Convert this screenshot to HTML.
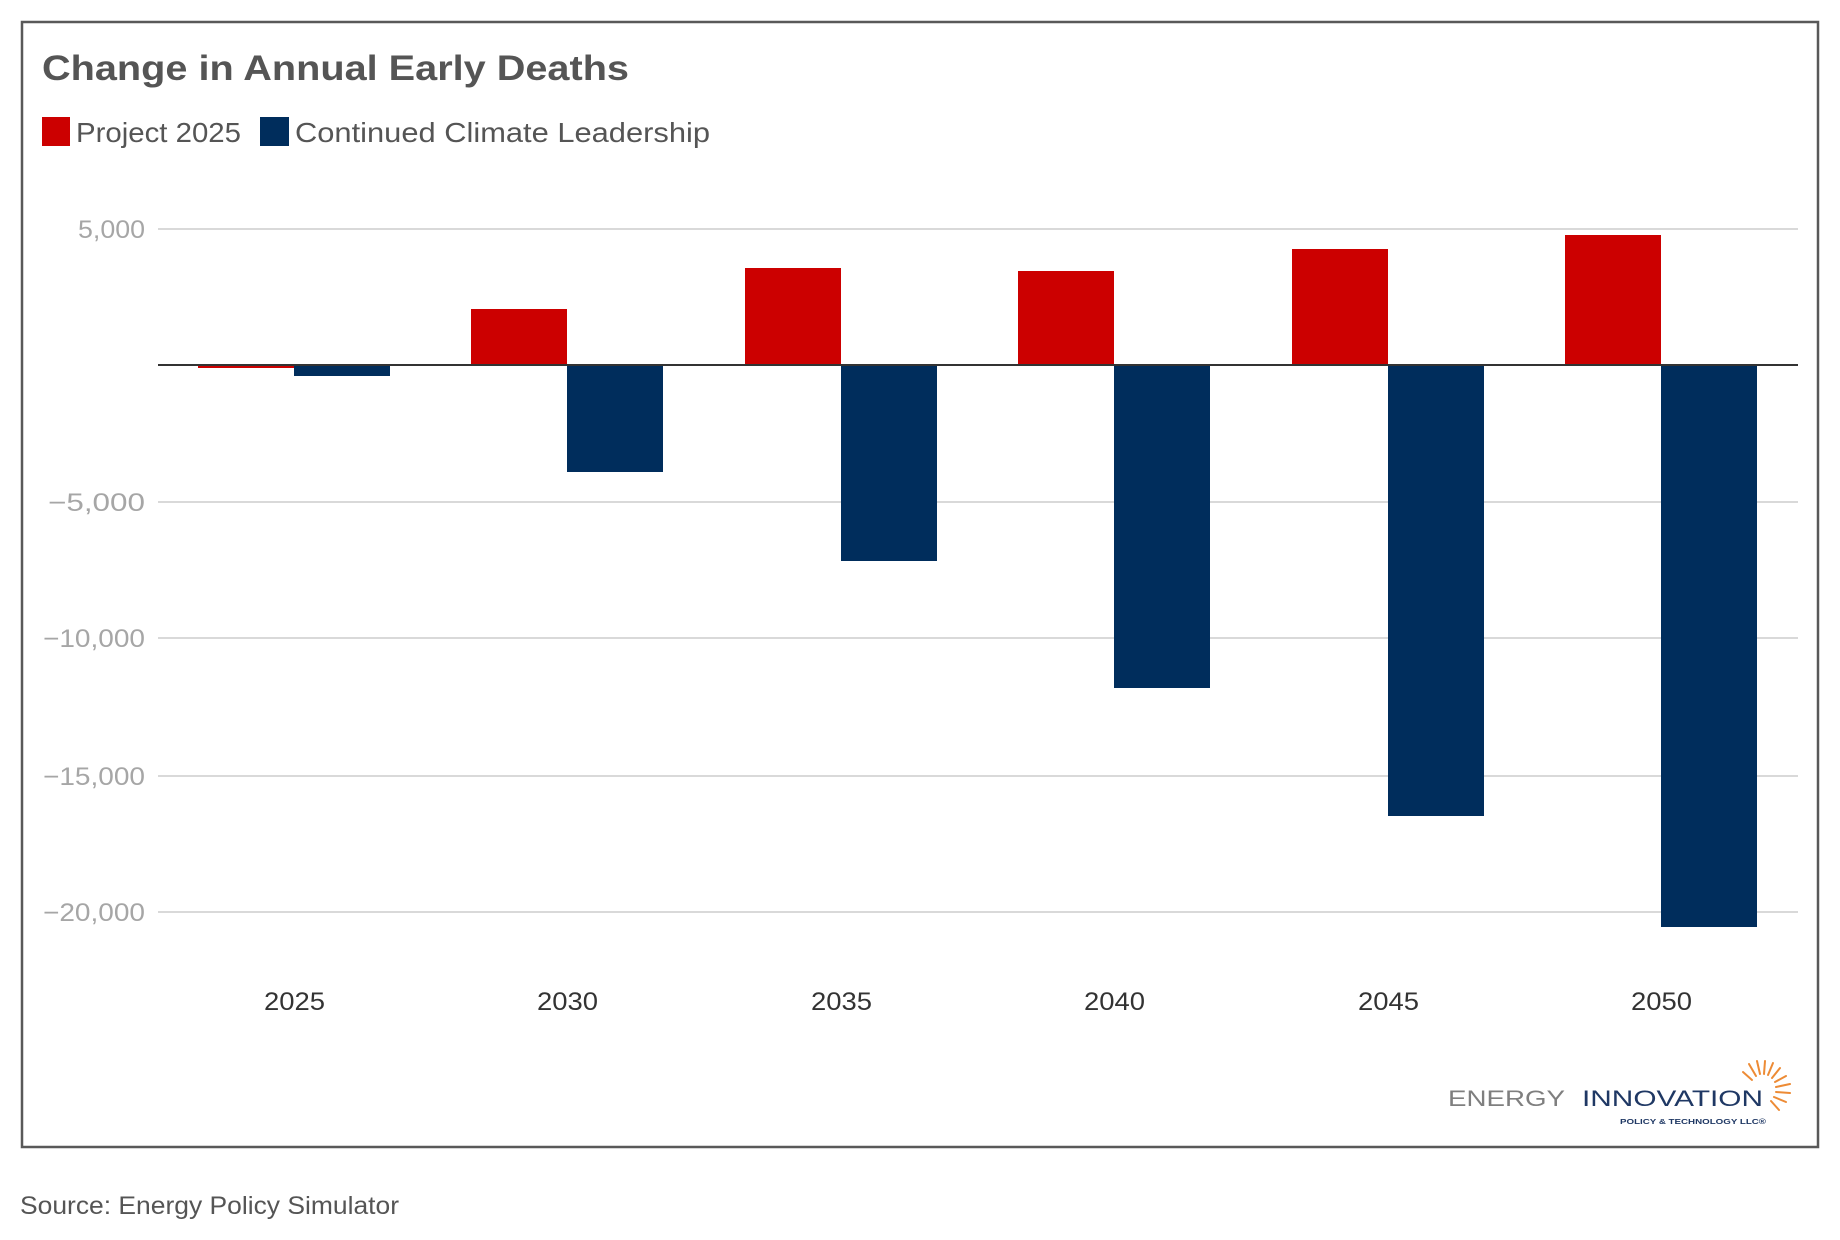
<!DOCTYPE html>
<html><head><meta charset="utf-8"><style>
html,body{margin:0;padding:0;background:#fff;}
svg{display:block;font-family:"Liberation Sans",sans-serif;}
</style></head><body>
<svg width="1840" height="1240" viewBox="0 0 1840 1240" xmlns="http://www.w3.org/2000/svg">
<rect x="22" y="22" width="1796" height="1125" fill="none" stroke="#595959" stroke-width="2.5"/>
<text x="42" y="80" font-size="35" font-weight="bold" fill="#555" textLength="587" lengthAdjust="spacingAndGlyphs">Change in Annual Early Deaths</text>
<rect x="42" y="117" width="28" height="29" fill="#cc0000"/>
<text x="76" y="142" font-size="28" fill="#555" textLength="165" lengthAdjust="spacingAndGlyphs">Project 2025</text>
<rect x="260" y="117" width="29" height="29" fill="#002d5c"/>
<text x="295" y="142" font-size="28" fill="#555" textLength="415" lengthAdjust="spacingAndGlyphs">Continued Climate Leadership</text>
<g stroke="#d9d9d9" stroke-width="2">
<line x1="158" y1="229" x2="1798" y2="229"/>
<line x1="158" y1="502" x2="1798" y2="502"/>
<line x1="158" y1="638" x2="1798" y2="638"/>
<line x1="158" y1="776" x2="1798" y2="776"/>
<line x1="158" y1="912" x2="1798" y2="912"/>
</g>
<g font-size="25" fill="#a6a6a6" lengthAdjust="spacingAndGlyphs">
<text x="78" y="238" textLength="67" lengthAdjust="spacingAndGlyphs">5,000</text>
<text x="48" y="511" textLength="97" lengthAdjust="spacingAndGlyphs">−5,000</text>
<text x="43" y="647" textLength="102" lengthAdjust="spacingAndGlyphs">−10,000</text>
<text x="43" y="785" textLength="102" lengthAdjust="spacingAndGlyphs">−15,000</text>
<text x="43" y="921" textLength="102" lengthAdjust="spacingAndGlyphs">−20,000</text>
</g>
<g fill="#cc0000">
<rect x="198" y="365" width="96" height="3"/>
<rect x="471" y="309" width="96" height="56"/>
<rect x="745" y="268" width="96" height="97"/>
<rect x="1018" y="271" width="96" height="94"/>
<rect x="1292" y="249" width="96" height="116"/>
<rect x="1565" y="235" width="96" height="130"/>
</g>
<g fill="#002d5c">
<rect x="294" y="365" width="96" height="11"/>
<rect x="567" y="365" width="96" height="107"/>
<rect x="841" y="365" width="96" height="196"/>
<rect x="1114" y="365" width="96" height="323"/>
<rect x="1388" y="365" width="96" height="451"/>
<rect x="1661" y="365" width="96" height="562"/>
</g>
<line x1="158" y1="365" x2="1798" y2="365" stroke="#333" stroke-width="2"/>
<g font-size="25" fill="#333">
<text x="264" y="1010" textLength="61" lengthAdjust="spacingAndGlyphs">2025</text>
<text x="537" y="1010" textLength="61" lengthAdjust="spacingAndGlyphs">2030</text>
<text x="811" y="1010" textLength="61" lengthAdjust="spacingAndGlyphs">2035</text>
<text x="1084" y="1010" textLength="61" lengthAdjust="spacingAndGlyphs">2040</text>
<text x="1358" y="1010" textLength="61" lengthAdjust="spacingAndGlyphs">2045</text>
<text x="1631" y="1010" textLength="61" lengthAdjust="spacingAndGlyphs">2050</text>
</g>
<text x="1448" y="1106" font-size="22" fill="#7f7f7f" textLength="117" lengthAdjust="spacingAndGlyphs">ENERGY</text>
<text x="1582" y="1106" font-size="22" fill="#1f3864" textLength="181" lengthAdjust="spacingAndGlyphs">INNOVATION</text>
<text x="1620" y="1124" font-size="7" font-weight="bold" fill="#1f3864" textLength="146" lengthAdjust="spacingAndGlyphs">POLICY &amp; TECHNOLOGY LLC®</text>
<g stroke="#ed8b35" stroke-width="2" stroke-linecap="round">
<line x1="1752" y1="1080" x2="1743" y2="1072"/>
<line x1="1756" y1="1076" x2="1749" y2="1064"/>
<line x1="1760" y1="1074" x2="1757" y2="1061"/>
<line x1="1764" y1="1074" x2="1765" y2="1061"/>
<line x1="1768" y1="1075" x2="1773" y2="1063"/>
<line x1="1772" y1="1078" x2="1780" y2="1068"/>
<line x1="1775" y1="1082" x2="1786" y2="1076"/>
<line x1="1776" y1="1087" x2="1790" y2="1084"/>
<line x1="1776" y1="1092" x2="1790" y2="1093"/>
<line x1="1774" y1="1097" x2="1786" y2="1102"/>
<line x1="1771" y1="1101" x2="1779" y2="1110"/>
</g>
<text x="20" y="1214" font-size="25" fill="#555" textLength="379" lengthAdjust="spacingAndGlyphs">Source: Energy Policy Simulator</text>
</svg>
</body></html>
